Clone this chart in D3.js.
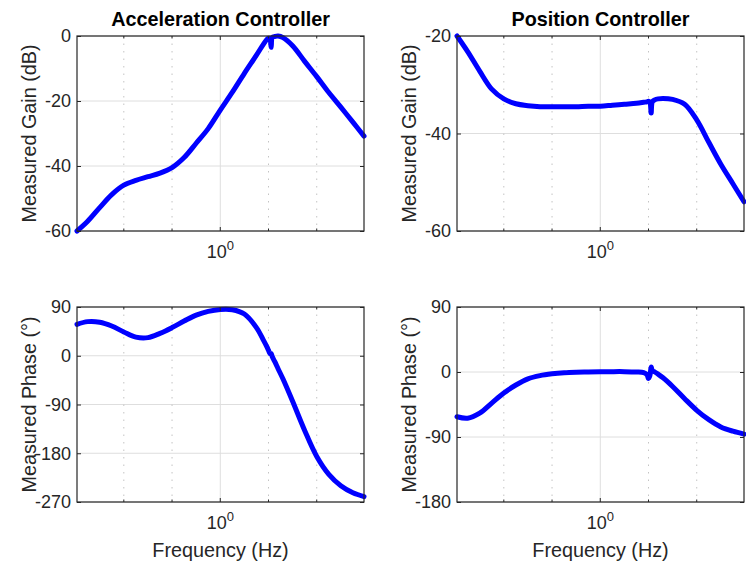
<!DOCTYPE html>
<html>
<head>
<meta charset="utf-8">
<script src="https://cdn.jsdelivr.net/npm/d3@7"></script>
<style>
  body { margin: 0; background: #fff; }
  text { font-family: "Liberation Sans", Arial, Helvetica, sans-serif; }
</style>
</head>
<body>
<div id="chart"></div>
<script>
// measured frequency points (Hz), shared by all four traces
const freq = [0.00107, 0.00178, 0.00316, 0.00562, 0.01, 0.0178, 0.0316, 0.0562, 0.1, 0.178,
  0.316, 0.562, 1, 1.78, 3.16, 5.62, 7.94, 9.33, 10, 10.7, 11.35, 12.0, 13.5, 15.8, 20,
  31.6, 56.2, 100, 178, 316, 562, 955];

const accGain = [-60, -57, -52.8, -48.8, -45.9, -44.4, -43.3, -42.2, -40.5, -37.4,
  -33, -28.5, -22.8, -17.3, -11.5, -5.9, -2.4, -1.0, -0.7, -0.8, -3.5, -0.4, -0.15, 0, -0.5,
  -3, -7.8, -12.5, -17.4, -21.9, -26.5, -30.8];
const posGain = [-20, -23.2, -27.2, -30.9, -32.9, -33.9, -34.3, -34.5, -34.5, -34.5,
  -34.5, -34.4, -34.4, -34.2, -34.0, -33.8, -33.6, -33.5, -33.4, -33.6, -35.8, -33.5, -33.1, -32.9, -32.8,
  -33.0, -34.0, -37.2, -41.8, -46.3, -50.3, -54];
const accPhase = [58, 63, 62, 55, 44, 34.5, 33.5, 41.4, 52, 64,
  75, 82, 85.5, 85, 77, 52, 28, 16, 10, 4, 4, -2, -11, -24, -43,
  -84, -138, -186, -219, -240, -253, -260];
const posPhase = [-62, -64, -57, -43, -29, -18, -9.5, -5, -2.5, -1,
  -0.3, 0, 0.3, 0.5, 0.5, 0, -1, -4, -9, -5, 7, 2, 0, -3, -8,
  -20, -37, -53, -66, -76, -82, -86];

const accGainTicks = [-60, -40, -20, 0];
const posGainTicks = [-60, -40, -20];
const accPhaseTicks = [-270, -180, -90, 0, 90];
const posPhaseTicks = [-180, -90, 0, 90];
const majorFreq = [1];
const minorFreq = [0.01, 0.1, 10, 100];

const titles = ["Acceleration Controller", "Position Controller"];
const gainLabel = "Measured Gain (dB)";
const phaseLabel = "Measured Phase (°)";
const freqLabel = "Frequency (Hz)";

const width = 746, height = 562;
const W = 287, H = 195;
const ink = "#262626";

const svg = d3.select("#chart").append("svg")
    .attr("width", width)
    .attr("height", height);

const panels = [
  { x0: 77,  y0: 36,  vals: accGain,  ticks: accGainTicks,  ylab: gainLabel,  title: titles[0] },
  { x0: 457, y0: 36,  vals: posGain,  ticks: posGainTicks,  ylab: gainLabel,  title: titles[1] },
  { x0: 77,  y0: 307, vals: accPhase, ticks: accPhaseTicks, ylab: phaseLabel, xlab: freqLabel },
  { x0: 457, y0: 307, vals: posPhase, ticks: posPhaseTicks, ylab: phaseLabel, xlab: freqLabel }
];

panels.forEach(p => {
  const g = svg.append("g").attr("transform", `translate(${p.x0},${p.y0})`);

  const x = d3.scaleLog().domain([freq[0], freq[freq.length - 1]]).range([0, W]);
  const y = d3.scaleLinear().domain(d3.extent(p.ticks)).range([H, 0]);

  // grid
  g.selectAll("line.hgrid")
    .data(p.ticks)
    .enter().append("line")
    .attr("class", "hgrid")
    .attr("x1", 0).attr("x2", W)
    .attr("y1", d => y(d)).attr("y2", d => y(d))
    .attr("stroke", "#dedede").attr("stroke-width", 1);

  g.selectAll("line.vgrid")
    .data(majorFreq)
    .enter().append("line")
    .attr("class", "vgrid")
    .attr("x1", d => x(d)).attr("x2", d => x(d))
    .attr("y1", 0).attr("y2", H)
    .attr("stroke", "#dedede").attr("stroke-width", 1);

  g.selectAll("line.mgrid")
    .data(minorFreq)
    .enter().append("line")
    .attr("class", "mgrid")
    .attr("x1", d => x(d)).attr("x2", d => x(d))
    .attr("y1", 0).attr("y2", H)
    .attr("stroke", "#c4c4c4").attr("stroke-width", 1)
    .attr("stroke-dasharray", "1.5,6");

  // data line
  const pts = freq.map((f, i) => [f, p.vals[i]]);
  const line = d3.line()
    .x(d => x(d[0]))
    .y(d => y(d[1]))
    .curve(d3.curveCatmullRom.alpha(0.5));

  g.append("path")
    .datum(pts)
    .attr("d", line)
    .attr("fill", "none")
    .attr("stroke", "#0000ff")
    .attr("stroke-width", 5)
    .attr("stroke-linejoin", "round")
    .attr("stroke-linecap", "round");

  // y axis (ticks inside) + mirrored ticks on the right
  const yAxis = g.append("g")
    .call(d3.axisLeft(y).tickValues(p.ticks).tickFormat(d => String(d))
      .tickSizeInner(-4).tickSizeOuter(0).tickPadding(6));
  yAxis.select(".domain").remove();
  yAxis.attr("font-family", null).attr("font-size", 18).attr("color", ink);

  g.append("g")
    .attr("transform", `translate(${W},0)`)
    .call(d3.axisRight(y).tickValues(p.ticks).tickSizeInner(-4).tickSizeOuter(0).tickFormat(""))
    .attr("color", ink)
    .select(".domain").remove();

  // x ticks, bottom and top
  [[H, -1], [0, 1]].forEach(([yy, dir]) => {
    g.selectAll(null).data(majorFreq).enter().append("line")
      .attr("x1", d => x(d)).attr("x2", d => x(d))
      .attr("y1", yy).attr("y2", yy + dir * 4)
      .attr("stroke", ink);
    g.selectAll(null).data(minorFreq).enter().append("line")
      .attr("x1", d => x(d)).attr("x2", d => x(d))
      .attr("y1", yy).attr("y2", yy + dir * 2.5)
      .attr("stroke", ink);
  });

  // x tick label 10^0
  const xt = g.selectAll(null).data(majorFreq).enter().append("text")
    .attr("x", d => x(d))
    .attr("y", H + 27)
    .attr("text-anchor", "middle")
    .attr("font-size", 18)
    .attr("fill", ink);
  xt.append("tspan").text("10");
  xt.append("tspan").attr("dy", -8).attr("font-size", 13).text(d => Math.round(Math.log10(d)));

  // box
  g.append("rect")
    .attr("width", W).attr("height", H)
    .attr("fill", "none")
    .attr("stroke", ink)
    .attr("stroke-width", 1.2);

  // labels
  g.append("text")
    .attr("transform", `translate(-41,${H / 2}) rotate(-90)`)
    .attr("text-anchor", "middle")
    .attr("font-size", 19.8)
    .attr("fill", ink)
    .text(p.ylab);

  if (p.title) {
    g.append("text")
      .attr("x", W / 2).attr("y", -10)
      .attr("text-anchor", "middle")
      .attr("font-size", 19.8)
      .attr("font-weight", "bold")
      .attr("fill", "#000")
      .text(p.title);
  }
  if (p.xlab) {
    g.append("text")
      .attr("x", W / 2).attr("y", H + 55)
      .attr("text-anchor", "middle")
      .attr("font-size", 19.8)
      .attr("fill", ink)
      .text(p.xlab);
  }
});
</script>
</body>
</html>
